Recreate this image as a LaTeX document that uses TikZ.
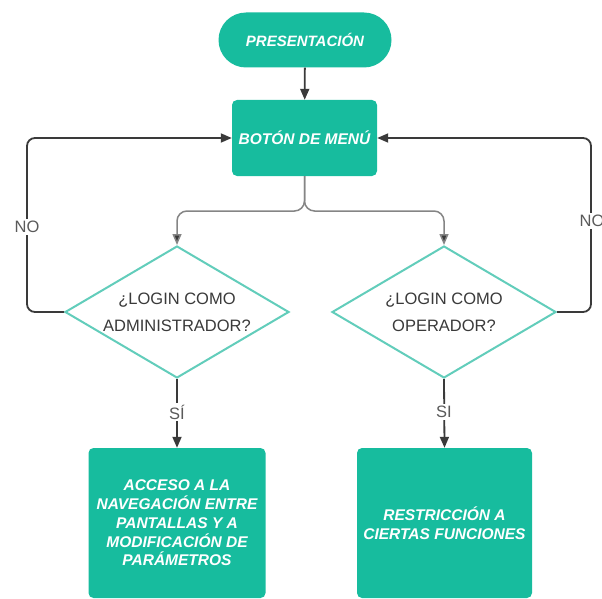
\documentclass[tikz,border=0pt]{standalone}
\usepackage{fontspec}
\setmainfont{Liberation Sans}
\usetikzlibrary{shapes.geometric,shapes.misc,arrows.meta}
\definecolor{teal}{HTML}{17BC9E}
\definecolor{tealline}{HTML}{62CDBB}
\definecolor{ink}{HTML}{3A3A3A}
\definecolor{branchgray}{HTML}{858585}
\definecolor{lblgray}{HTML}{5A5A5A}
\begin{document}
\begin{tikzpicture}[x=1pt,y=-1pt,
  tip/.style={-{Triangle[length=11pt,width=9pt]}},
  terminal/.style={rounded rectangle, fill=teal, text=white, inner sep=0pt,
    minimum width=173pt, minimum height=55pt, font=\fontsize{15}{18}\selectfont\bfseries\itshape},
  process/.style={rectangle, rounded corners=5pt, fill=teal, text=white, inner sep=0pt,
    align=center, font=\fontsize{15.5}{18.8}\selectfont\bfseries\itshape},
  decision/.style={diamond, draw=tealline, line width=2pt, fill=white, inner sep=0pt,
    minimum width=224pt, minimum height=132pt},
  dtext/.style={align=center, text=ink, font=\fontsize{16.5}{27}\selectfont},
  flow/.style={draw=ink, line width=1.8pt, tip, rounded corners=8pt},
  straight/.style={draw=ink, line width=1.8pt, tip},
  branch/.style={draw=branchgray, line width=1.5pt, rounded corners=10pt,
    -{Triangle[length=11pt,width=9pt,fill=ink]}},
  lbl/.style={fill=white, text=lblgray, inner sep=2pt, font=\fontsize{16.5}{18}\selectfont},
]
\useasboundingbox (0,0) rectangle (602,599);

% nodes
\node[terminal] (pres) at (305,40) {PRESENTACIÓN};
\node[process, minimum width=145pt, minimum height=76pt] (menu) at (304.5,138) {BOTÓN DE MENÚ};
\node[decision] (d1) at (177,312) {};
\node[dtext] at (d1) {¿LOGIN COMO\\ADMINISTRADOR?};
\node[decision] (d2) at (444,312) {};
\node[dtext] at (d2) {¿LOGIN COMO\\OPERADOR?};
\node[process, minimum width=177pt, minimum height=150pt] (admin) at (177,523)
  {ACCESO A LA\\NAVEGACIÓN ENTRE\\PANTALLAS Y A\\MODIFICACIÓN DE\\PARÁMETROS};
\node[process, minimum width=175pt, minimum height=150pt] (oper) at (444.5,523)
  {RESTRICCIÓN A\\CIERTAS FUNCIONES};

% helper points
\coordinate (split) at (304.5,211);
\coordinate (lx) at (27,138);
\coordinate (rx) at (591,138);

% connectors
\draw[straight] (pres) -- (menu);
\draw[branch] (menu.south) -- (split) -| (d1.north);
\draw[branch] (menu.south) -- (split) -| (d2.north);
\draw[flow] (d1.west) -| (lx) -- (menu.west);
\draw[flow] (d2.east) -| (rx) -- (menu.east);
\draw[straight] (d1.south) -- (admin.north);
\draw[straight] (d2.south) -- (oper.north);

% labels
\node[lbl] (no1) at (27,227) {NO};
\node[lbl] (no2) at (592,221) {NO};
\node[lbl] (si1) at (177,412) {SÍ};
\node[lbl] (si2) at (444,412) {SI};
\end{tikzpicture}
\end{document}
